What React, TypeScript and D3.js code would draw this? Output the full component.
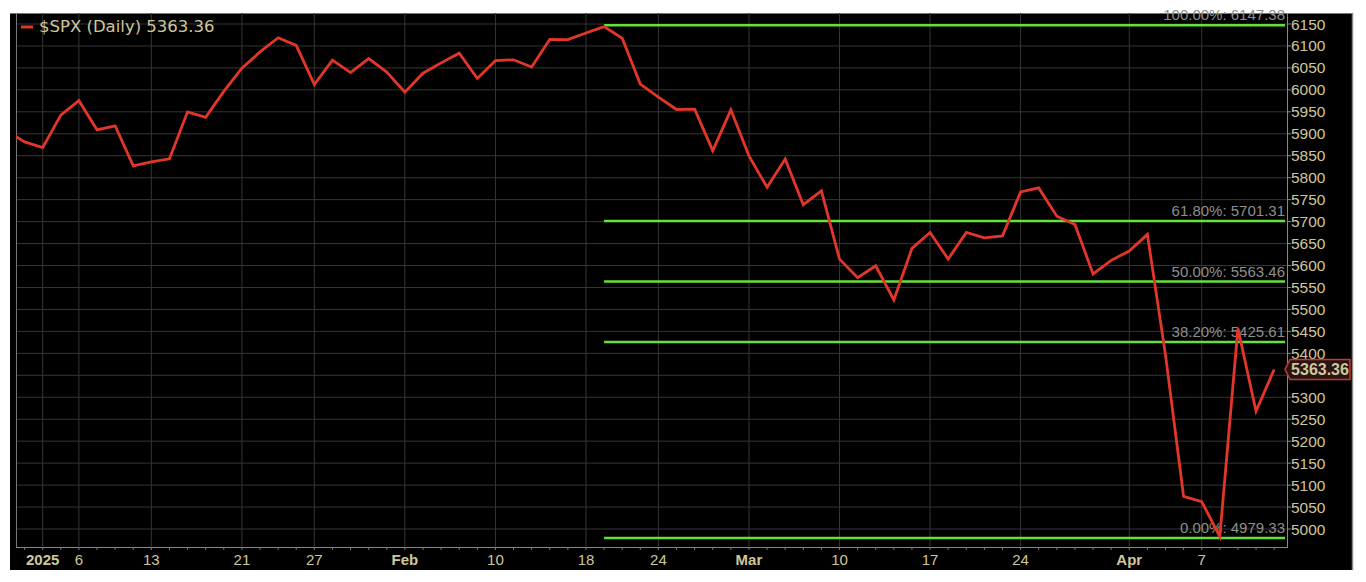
import React from "react";
import * as d3 from "d3";

const dates = [
  "2024-12-30","2024-12-31",
  "2025-01-02","2025-01-03","2025-01-06","2025-01-07","2025-01-08","2025-01-10","2025-01-13","2025-01-14","2025-01-15","2025-01-16","2025-01-17","2025-01-21","2025-01-22","2025-01-23","2025-01-24","2025-01-27","2025-01-28","2025-01-29","2025-01-30","2025-01-31",
  "2025-02-03","2025-02-04","2025-02-05","2025-02-06","2025-02-07","2025-02-10","2025-02-11","2025-02-12","2025-02-13","2025-02-14","2025-02-18","2025-02-19","2025-02-20","2025-02-21","2025-02-24","2025-02-25","2025-02-26","2025-02-27","2025-02-28",
  "2025-03-03","2025-03-04","2025-03-05","2025-03-06","2025-03-07","2025-03-10","2025-03-11","2025-03-12","2025-03-13","2025-03-14","2025-03-17","2025-03-18","2025-03-19","2025-03-20","2025-03-21","2025-03-24","2025-03-25","2025-03-26","2025-03-27","2025-03-28","2025-03-31",
  "2025-04-01","2025-04-02","2025-04-03","2025-04-04","2025-04-07","2025-04-08","2025-04-09","2025-04-10","2025-04-11"
];

const closes = [
  5906.94, 5881.63,
  5868.55, 5942.47, 5975.38, 5909.03, 5918.25, 5827.04, 5836.22, 5842.91, 5949.91, 5937.34, 5996.66, 6049.24, 6086.37, 6118.71, 6101.24, 6012.28, 6067.70, 6039.31, 6071.17, 6040.53,
  5994.57, 6037.88, 6061.48, 6083.57, 6025.99, 6066.44, 6068.50, 6051.97, 6115.07, 6114.63, 6129.58, 6144.15, 6117.52, 6013.13, 5983.25, 5955.25, 5956.06, 5861.57, 5954.50,
  5849.72, 5778.15, 5842.63, 5738.52, 5770.20, 5614.56, 5572.07, 5599.30, 5521.52, 5638.94, 5675.12, 5614.66, 5675.29, 5662.89, 5667.56, 5767.57, 5776.65, 5712.20, 5693.31, 5580.94, 5611.85,
  5633.07, 5670.97, 5396.52, 5074.08, 5062.25, 4982.77, 5456.90, 5268.05, 5363.36
];

const xTicks = [
  { date: "2025-01-02", label: "2025", bold: true },
  { date: "2025-01-06", label: "6", bold: false },
  { date: "2025-01-13", label: "13", bold: false },
  { date: "2025-01-21", label: "21", bold: false },
  { date: "2025-01-27", label: "27", bold: false },
  { date: "2025-02-03", label: "Feb", bold: true },
  { date: "2025-02-10", label: "10", bold: false },
  { date: "2025-02-18", label: "18", bold: false },
  { date: "2025-02-24", label: "24", bold: false },
  { date: "2025-03-03", label: "Mar", bold: true },
  { date: "2025-03-10", label: "10", bold: false },
  { date: "2025-03-17", label: "17", bold: false },
  { date: "2025-03-24", label: "24", bold: false },
  { date: "2025-04-01", label: "Apr", bold: true },
  { date: "2025-04-07", label: "7", bold: false },
];

const yTicks = d3.range(5000, 6151, 50);

const fibLevels = [
  { pct: "100.00%", value: 6147.38 },
  { pct: "61.80%", value: 5701.31 },
  { pct: "50.00%", value: 5563.46 },
  { pct: "38.20%", value: 5425.61 },
  { pct: "0.00%", value: 4979.33 },
];
const fibStartDate = "2025-02-19";

const seriesName = "$SPX (Daily)";
const lastValue = 5363.36;

const left = 16, right = 1287, top = 13, bottom = 547;
const FONT = "'Liberation Sans', Arial, sans-serif";
const LEGEND_FONT = "'DejaVu Sans', Verdana, sans-serif";
const TAN = "#cfc79c";
const RED = "#e3362a";
const GREEN = "#66e03a";
const GRID = "#353535";

export default function App() {
  const idx0 = dates.indexOf("2025-01-02");
  const x = d3.scaleLinear().domain([-1.474, 68.71]).range([left, right]);
  const xi = (d: string) => x(dates.indexOf(d) - idx0);
  const y = d3.scaleLinear().domain([5000, 6150]).range([529, 24]);

  const line = d3.line<number>().x((_, i) => x(i - idx0)).y((v) => y(v));
  const pathD = line(closes) || "";

  const fx = xi(fibStartDate);
  const ly = y(lastValue);

  return (
    <svg width={1366} height={582} style={{ position: "absolute", left: 0, top: 0, background: "#fff" }} fontFamily={FONT}>
      <defs>
        <clipPath id="plot">
          <rect x={left} y={top} width={right - left} height={bottom - top} />
        </clipPath>
      </defs>
      <rect x={10} y={13} width={1342} height={557} fill="#000" />
      <line x1={10} x2={1352} y1={13.5} y2={13.5} stroke="#777" strokeWidth={1} />
      <line x1={1352.5} x2={1352.5} y1={13} y2={570} stroke="#888" strokeWidth={1.5} />

      {yTicks.map((t) => (
        <line key={"hg" + t} x1={left} x2={right} y1={y(t)} y2={y(t)} stroke={GRID} strokeWidth={1} />
      ))}
      {xTicks.map((t) => (
        <line key={"vg" + t.date} x1={xi(t.date)} x2={xi(t.date)} y1={top} y2={bottom} stroke={GRID} strokeWidth={1} />
      ))}

      <line x1={left + 0.5} x2={left + 0.5} y1={top} y2={bottom} stroke="#777" />
      <line x1={right + 0.5} x2={right + 0.5} y1={top} y2={bottom + 1} stroke="#888" />
      <line x1={left} x2={right + 1} y1={bottom + 0.5} y2={bottom + 0.5} stroke="#888" />

      {dates.map((d, i) => {
        const xx = x(i - idx0);
        if (xx < left || xx > right) return null;
        return <line key={"mt" + d} x1={xx} x2={xx} y1={bottom} y2={bottom + 3} stroke="#777" />;
      })}

      {yTicks.map((t) => (
        <g key={"yt" + t}>
          <line x1={right} x2={right + 4} y1={y(t)} y2={y(t)} stroke="#888" />
          {Math.abs(y(t) - ly) > 9 && (
            <text x={right + 4} y={y(t) + 5.5} fontSize={15.5} fill={TAN}>{t}</text>
          )}
        </g>
      ))}

      {xTicks.map((t) => (
        <text key={"xl" + t.date} x={xi(t.date)} y={565} fontSize={15} fill={TAN}
          textAnchor="middle" fontWeight={t.bold ? "bold" : "normal"}>{t.label}</text>
      ))}

      {fibLevels.map((f) => (
        <g key={"fib" + f.pct}>
          <line x1={fx} x2={right - 2} y1={y(f.value)} y2={y(f.value)} stroke={GREEN} strokeWidth={2.5} />
          <text x={right - 2} y={y(f.value) - 5} fontSize={15} fill="#8e8e8e" textAnchor="end">
            {f.pct}: {f.value.toFixed(2)}
          </text>
        </g>
      ))}

      <path d={pathD} fill="none" stroke={RED} strokeWidth={2.8} strokeLinejoin="miter" clipPath="url(#plot)" />

      <line x1={21} x2={33} y1={27} y2={27} stroke={RED} strokeWidth={3} />
      <text x={39} y={32} fontSize={16.5} fill={TAN} fontFamily={LEGEND_FONT}>{seriesName} {lastValue.toFixed(2)}</text>

      <path d={`M${right - 2},${ly} L${right + 3},${ly - 10} H1350 V${ly + 10} H${right + 3} Z`}
        fill="#2a1414" stroke="#c23a2e" strokeWidth={1.5} />
      <text x={1320} y={ly + 6} fontSize={16} fontWeight="bold" fill={TAN} textAnchor="middle">{lastValue.toFixed(2)}</text>
    </svg>
  );
}
